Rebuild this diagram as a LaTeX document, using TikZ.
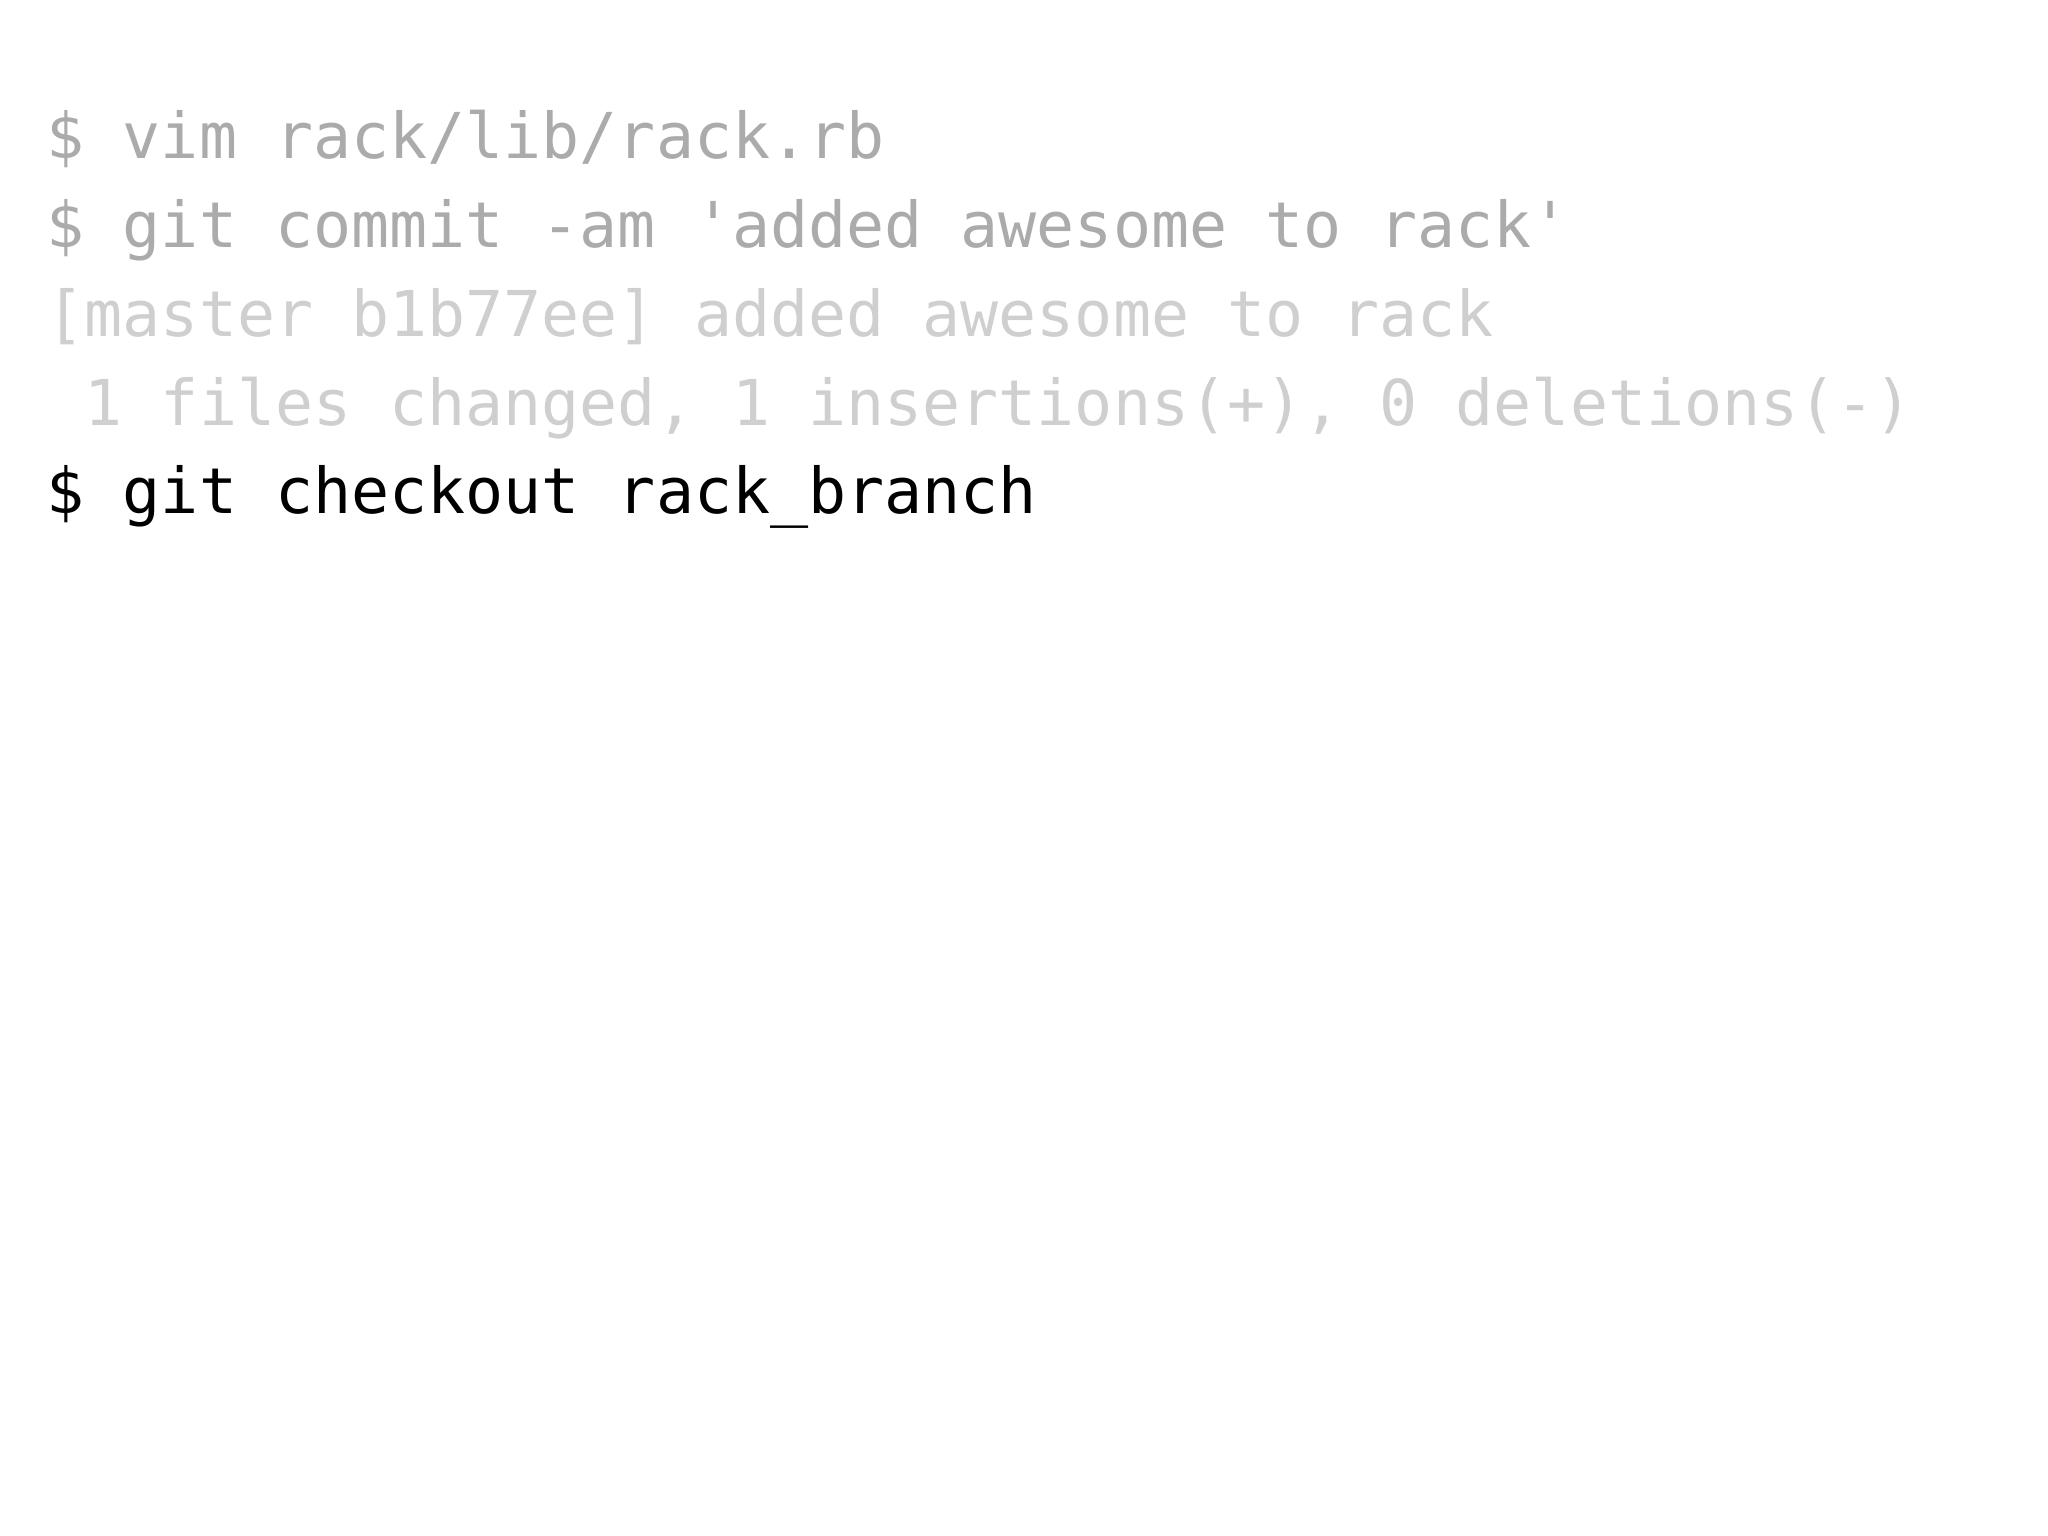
\documentclass[tikz,border=0pt]{standalone}
\usepackage{fontspec}
\setmonofont{DejaVu Sans Mono}
\definecolor{g1}{HTML}{ABABAB}
\definecolor{g2}{HTML}{CFCFCF}
\begin{document}
\begin{tikzpicture}
\useasboundingbox (0,0) rectangle (20.48,15.36);
\tikzset{ln/.style={anchor=base west,inner sep=0pt,font=\ttfamily\fontsize{18}{20}\selectfont}}
\node[ln,text=g1] (l1) at (0.46,13.77) {\$ vim rack/lib/rack.rb};
\node[ln,text=g1] (l2) at (0.46,12.88) {\$ git commit -am 'added awesome to rack'};
\node[ln,text=g2] (l3) at (0.46,11.99) {[master b1b77ee] added awesome to rack};
\node[ln,text=g2] (l4) at (0.46,11.10) {\ 1 files changed, 1 insertions(+), 0 deletions(-)};
\node[ln,text=black] (l5) at (0.46,10.22) {\$ git checkout rack\_branch};
\end{tikzpicture}
\end{document}
